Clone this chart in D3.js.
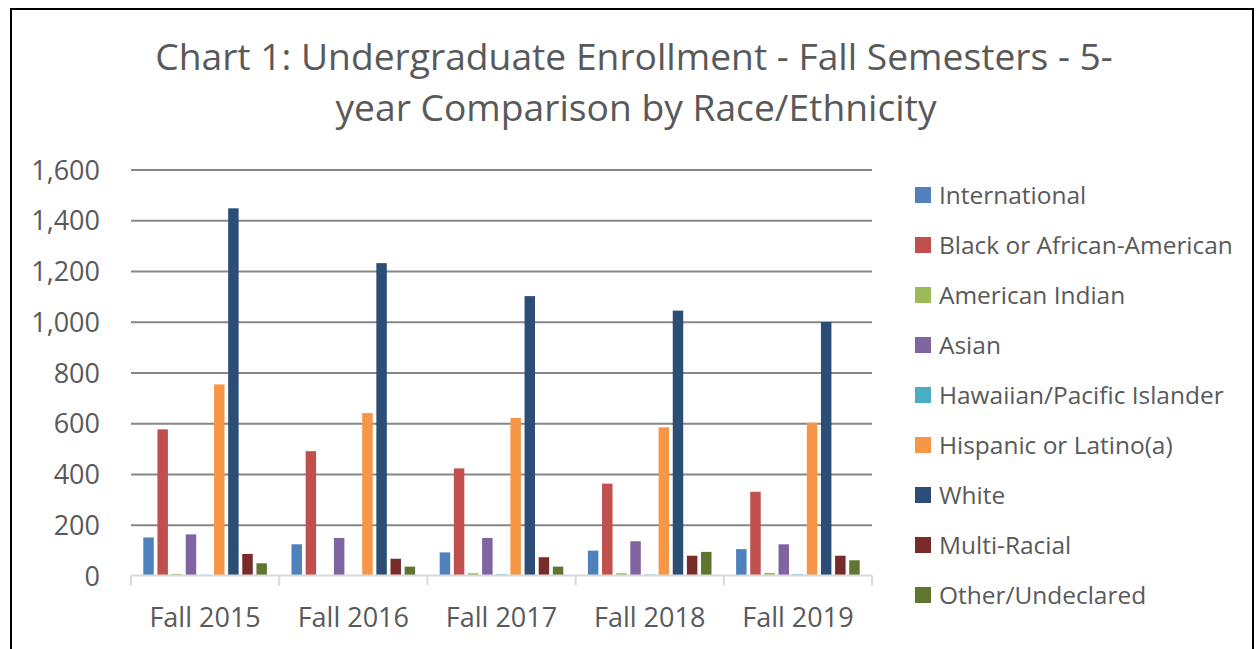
<!DOCTYPE html>
<html><head><meta charset="utf-8">
<script src="https://cdn.jsdelivr.net/npm/d3@7"></script>
<style>body{margin:0;background:#fff}svg{display:block}</style>
</head><body><svg id="c" width="1257" height="649"></svg>
<script>
// ---- data ----
const categories = ["Fall 2015", "Fall 2016", "Fall 2017", "Fall 2018", "Fall 2019"];
const seriesNames = ["International", "Black or African-American", "American Indian", "Asian",
  "Hawaiian/Pacific Islander", "Hispanic or Latino(a)", "White", "Multi-Racial", "Other/Undeclared"];
const seriesColors = ["#4F81BD", "#C0504D", "#9BBB59", "#8064A2", "#4BACC6", "#F79646", "#2C4D75", "#772C2A", "#5F7530"];
const international  = [150, 123, 91, 98, 104];
const blackAfrican   = [576, 490, 422, 362, 330];
const americanIndian = [6, 2, 9, 9, 10];
const asian          = [162, 148, 148, 135, 123];
const hawaiian       = [3, 2, 5, 4, 5];
const hispanic       = [753, 640, 621, 584, 602];
const white          = [1447, 1231, 1101, 1044, 999];
const multiRacial    = [85, 66, 72, 78, 78];
const otherUndecl    = [48, 35, 35, 93, 60];
const yTicks = [0, 200, 400, 600, 800, 1000, 1200, 1400, 1600];
const titleLines = ["Chart 1: Undergraduate Enrollment - Fall Semesters - 5-", "year Comparison by Race/Ethnicity"];

const seriesValues = [international, blackAfrican, americanIndian, asian, hawaiian, hispanic, white, multiRacial, otherUndecl];

// ---- layout ----
const FONT = "'Open Sans', sans-serif";
const TXT = "#595959";
const svg = d3.select("#c");
svg.append("rect").attr("width", 1257).attr("height", 649).attr("fill", "#fff");
svg.append("rect").attr("x", 11).attr("y", 9).attr("width", 1242).attr("height", 680)
  .attr("fill", "none").attr("stroke", "#000").attr("stroke-width", 2);

const pLeft = 131, pRight = 872, pTop = 169.5, pBottom = 575.5;
const x0 = d3.scaleBand().domain(categories).range([pLeft, pRight]);
const x1 = d3.scaleBand().domain(seriesNames).range([12.3, x0.bandwidth() - 12.3]).paddingInner(0.26);
const y = d3.scaleLinear().domain([0, 1600]).range([pBottom, pTop]);
const color = d3.scaleOrdinal().domain(seriesNames).range(seriesColors);

// title
const title = svg.append("g").attr("font-family", FONT).attr("fill", TXT).attr("text-anchor", "middle");
const t1 = title.append("text").attr("x", 634).attr("y", 70).attr("font-size", 38).text(titleLines[0]);
const w1 = t1.node().getComputedTextLength();
const tsize = 38 * 958 / w1;
t1.attr("font-size", tsize);
title.append("text").attr("x", 636).attr("y", 121).attr("font-size", tsize).text(titleLines[1]);

// gridlines + y labels
const yAxis = svg.append("g").attr("transform", `translate(${pLeft},0)`)
  .call(d3.axisLeft(y).tickValues(yTicks).tickFormat(d3.format(",")).tickSize(-(pRight - pLeft)).tickPadding(31));
yAxis.select(".domain").remove();
yAxis.selectAll(".tick line").attr("stroke", d => d === 0 ? "none" : "#878787").attr("stroke-width", 2);
yAxis.selectAll(".tick text").attr("font-family", FONT).attr("font-size", 27).attr("fill", TXT).attr("dy", "0.36em");

// bars
const groups = svg.append("g").selectAll("g").data(categories).join("g")
  .attr("transform", d => `translate(${x0(d)},0)`);
groups.selectAll("rect")
  .data((c, ci) => seriesNames.map((s, si) => ({ s, v: seriesValues[si][ci] })))
  .join("rect")
  .attr("x", d => x1(d.s)).attr("width", x1.bandwidth())
  .attr("y", d => y(d.v)).attr("height", d => y(0) - y(d.v))
  .attr("fill", d => color(d.s));

// x axis
const xAxis = svg.append("g").attr("transform", `translate(0,${pBottom})`)
  .call(d3.axisBottom(x0).tickSize(0).tickPadding(0));
xAxis.select(".domain").attr("stroke", "#D9D9D9").attr("stroke-width", 2)
  .attr("d", `M${pLeft},0H${pRight}`);
xAxis.selectAll(".tick text").attr("font-family", FONT).attr("font-size", 27).attr("fill", TXT)
  .attr("y", 51.5).attr("dy", 0);
xAxis.selectAll(".sep").data([...categories.map(c => x0(c)), pRight]).join("line").attr("class", "sep")
  .attr("x1", d => d).attr("x2", d => d).attr("y1", 0).attr("y2", 10)
  .attr("stroke", "#D9D9D9").attr("stroke-width", 2);

// legend
const legend = svg.append("g").attr("font-family", FONT).attr("fill", TXT);
const items = legend.selectAll("g").data(seriesNames).join("g")
  .attr("transform", (d, i) => `translate(915,${195 + i * 50})`);
items.append("rect").attr("x", 0).attr("y", -8).attr("width", 16).attr("height", 16).attr("fill", d => color(d));
const ltexts = items.append("text").attr("x", 24).attr("y", 9).attr("font-size", 24).text(d => d);
const wb = ltexts.filter(d => d === "Black or African-American").node().getComputedTextLength();
ltexts.attr("font-size", 24 * 294 / wb);
</script></body></html>
